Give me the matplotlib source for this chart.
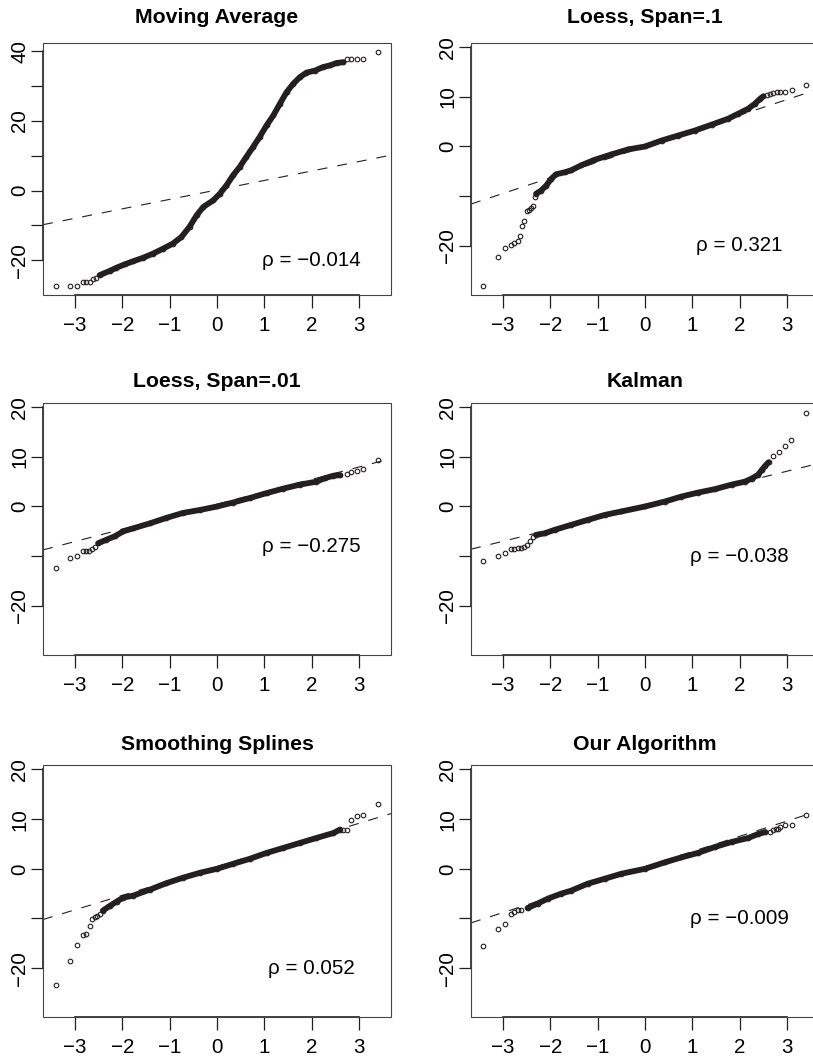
import matplotlib
matplotlib.use("Agg")
import matplotlib.pyplot as plt
from matplotlib.patches import Rectangle

plt.rcParams['font.family'] = ['Liberation Sans', 'DejaVu Sans']

INK = '#231f20'

# ---- Moving Average ----
ma_lo_x = [-3.41, -3.10, -2.95, -2.84, -2.76, -2.69, -2.62, -2.55]
ma_lo_y = [-27.3, -27.3, -27.3, -26.2, -26.2, -26.2, -25.5, -25.0]
ma_x = [-2.48, -2.27, -2.13, -1.95, -1.77, -1.56, -1.35, -1.14, -0.93, -0.75,
        -0.58, -0.43, -0.29, -0.08, 0.06, 0.20, 0.34, 0.48, 0.62, 0.76, 0.90,
        1.05, 1.19, 1.33, 1.47, 1.61, 1.75, 1.89, 2.07, 2.24, 2.39, 2.53, 2.67]
ma_y = [-24.3, -23.1, -22.2, -21.2, -20.3, -19.3, -18.1, -16.7, -15.2, -13.3,
        -10.4, -7.1, -4.7, -2.8, -0.9, 1.5, 4.4, 6.8, 9.7, 12.5, 15.4,
        18.8, 21.6, 25.0, 28.3, 30.7, 32.6, 33.9, 34.5, 35.5, 36.0, 36.7, 36.9]
ma_hi_x = [2.75, 2.84, 2.95, 3.09, 3.39]
ma_hi_y = [37.7, 37.7, 37.7, 37.7, 39.8]

# ---- Loess, Span=.1 ----
l1_lo_x = [-3.42, -3.10, -2.96, -2.84, -2.76, -2.69, -2.63, -2.60, -2.55,
           -2.49, -2.44, -2.41, -2.36, -2.32]
l1_lo_y = [-28.0, -22.3, -20.4, -19.8, -19.5, -19.1, -18.0, -16.0, -15.0,
           -13.0, -12.8, -12.3, -11.9, -10.2]
l1_x = [-2.30, -2.20, -2.09, -1.98, -1.88, -1.70, -1.56, -1.35, -1.07, -0.71,
        -0.36, 0.0, 0.35, 0.70, 1.05, 1.41, 1.76, 1.97, 2.18, 2.32, 2.43, 2.50]
l1_y = [-9.5, -8.9, -7.9, -6.5, -5.6, -5.2, -4.8, -3.8, -2.7, -1.6,
        -0.6, 0.0, 1.2, 2.2, 3.2, 4.4, 5.6, 6.6, 7.6, 8.6, 9.6, 10.1]
l1_hi_x = [2.57, 2.64, 2.71, 2.78, 2.85, 2.96, 3.10, 3.40]
l1_hi_y = [10.4, 10.6, 10.8, 10.9, 10.9, 11.0, 11.4, 12.3]

# ---- Loess, Span=.01 ----
l01_lo_x = [-3.41, -3.10, -2.95, -2.84, -2.77, -2.70, -2.63, -2.58]
l01_lo_y = [-12.3, -10.3, -10.0, -8.9, -8.9, -8.9, -8.6, -8.2]
l01_x = [-2.51, -2.34, -2.16, -1.98, -1.77, -1.42, -1.07, -0.72, -0.36, 0.0,
         0.34, 0.69, 1.05, 1.40, 1.75, 2.10, 2.28, 2.46, 2.60]
l01_y = [-7.4, -6.7, -6.0, -5.0, -4.4, -3.4, -2.3, -1.3, -0.7, 0.0,
         0.8, 1.7, 2.7, 3.6, 4.4, 5.0, 5.7, 6.2, 6.3]
l01_hi_x = [2.74, 2.84, 2.95, 3.09, 3.39]
l01_hi_y = [6.5, 6.9, 7.1, 7.5, 9.4]

# ---- Kalman ----
k_lo_x = [-3.42, -3.10, -2.96, -2.84, -2.76, -2.69, -2.62, -2.56, -2.49,
          -2.42, -2.37]
k_lo_y = [-11.0, -9.9, -9.4, -8.5, -8.5, -8.4, -8.3, -8.1, -7.7, -7.0, -6.2]
k_x = [-2.30, -2.12, -1.91, -1.56, -1.21, -0.85, -0.50, 0.0, 0.42, 0.77,
       1.12, 1.48, 1.83, 2.11, 2.25, 2.39, 2.47, 2.54, 2.61]
k_y = [-5.7, -5.4, -4.7, -3.7, -2.7, -1.7, -1.0, 0.0, 1.0, 2.0,
       2.8, 3.5, 4.4, 5.0, 5.6, 6.4, 7.4, 8.2, 8.9]
k_hi_x = [2.70, 2.83, 2.95, 3.09, 3.40]
k_hi_y = [10.1, 10.9, 12.1, 13.4, 18.9]

# ---- Smoothing Splines ----
ss_lo_x = [-3.41, -3.10, -2.95, -2.84, -2.76, -2.69, -2.63, -2.58, -2.53, -2.48]
ss_lo_y = [-23.4, -18.5, -15.3, -13.4, -13.2, -11.6, -10.2, -9.7, -9.4, -9.1]
ss_x = [-2.41, -2.27, -2.12, -1.98, -1.77, -1.42, -1.07, -0.72, -0.36, 0.0,
        0.34, 0.69, 1.05, 1.40, 1.75, 2.10, 2.46, 2.60]
ss_y = [-8.4, -7.5, -6.6, -5.8, -5.4, -4.2, -2.9, -1.8, -0.8, 0.0,
        1.0, 2.0, 3.2, 4.2, 5.2, 6.2, 7.2, 7.9]
ss_hi_x = [2.67, 2.74, 2.84, 2.95, 3.09, 3.39]
ss_hi_y = [7.9, 7.9, 9.9, 10.7, 10.9, 13.1]

# ---- Our Algorithm ----
oa_lo_x = [-3.42, -3.10, -2.96, -2.84, -2.76, -2.69, -2.62]
oa_lo_y = [-15.6, -12.1, -11.2, -9.1, -8.6, -8.3, -8.3]
oa_x = [-2.48, -2.27, -2.05, -1.77, -1.56, -1.21, -0.85, -0.50, 0.0, 0.42,
        0.77, 1.12, 1.48, 1.83, 2.18, 2.39, 2.54]
oa_y = [-7.9, -7.0, -6.0, -5.0, -4.4, -3.0, -2.0, -1.0, 0.0, 1.3,
        2.3, 3.2, 4.4, 5.4, 6.2, 7.0, 7.4]
oa_hi_x = [2.64, 2.71, 2.76, 2.80, 2.85, 2.95, 3.10, 3.41]
oa_hi_y = [7.4, 7.8, 8.1, 8.0, 8.4, 8.9, 8.9, 10.9]

titles = ["Moving Average", "Loess, Span=.1", "Loess, Span=.01", "Kalman",
          "Smoothing Splines", "Our Algorithm"]
rho = ["\u03c1 = \u22120.014", "\u03c1 = 0.321", "\u03c1 = \u22120.275",
       "\u03c1 = \u22120.038", "\u03c1 = 0.052", "\u03c1 = \u22120.009"]
rho_y = [-20, -20, -8, -10, -20, -10]
line_slope = [2.72, 3.15, 2.50, 2.35, 2.90, 3.07]
line_icpt = [0.2, 0.0, 0.45, 0.05, 0.45, 0.4]

x_ticks = [-3, -2, -1, 0, 1, 2, 3]
x_labels = ['\u22123', '\u22122', '\u22121', '0', '1', '2', '3']
y_ticks_ma = [-20, -10, 0, 10, 20, 30, 40]
y_labels_ma = ['\u221220', '', '0', '', '20', '', '40']
y_ticks = [-20, -10, 0, 10, 20]
y_labels = ['\u221220', '', '0', '10', '20']

panels = [
    (ma_lo_x, ma_lo_y, ma_x, ma_y, ma_hi_x, ma_hi_y),
    (l1_lo_x, l1_lo_y, l1_x, l1_y, l1_hi_x, l1_hi_y),
    (l01_lo_x, l01_lo_y, l01_x, l01_y, l01_hi_x, l01_hi_y),
    (k_lo_x, k_lo_y, k_x, k_y, k_hi_x, k_hi_y),
    (ss_lo_x, ss_lo_y, ss_x, ss_y, ss_hi_x, ss_hi_y),
    (oa_lo_x, oa_lo_y, oa_x, oa_y, oa_hi_x, oa_hi_y),
]

fig = plt.figure(figsize=(8.13, 10.6), dpi=100)

col_left = [43 / 813, 471 / 813]
ax_w = 348 / 813
row_bottom = [1 - 295 / 1060, 1 - 655 / 1060, 1 - 1017.3 / 1060]
ax_h = 0.238
title_pad = [14.4, 11.1, 11.1]

for i, (lox, loy, bx, by, hix, hiy) in enumerate(panels):
    r, c = divmod(i, 2)
    ax = fig.add_axes([col_left[c], row_bottom[r], ax_w, ax_h])

    mk = dict(marker='o', ms=3.3, mfc='none', mec=INK, mew=0.8, ls='none')
    ax.plot(bx, by, '-', color=INK, lw=4.2, solid_capstyle='round',
            solid_joinstyle='round', zorder=3)
    ax.plot(bx, by, **mk, zorder=3)
    ax.plot(lox, loy, **mk, zorder=3)
    ax.plot(hix, hiy, **mk, zorder=3)

    ax.axline((0, line_icpt[i]), slope=line_slope[i], color=INK, lw=0.8,
              linestyle=(0, (9, 9)), zorder=2)

    ax.set_xlim(-3.675, 3.675)
    if i == 0:
        ax.set_ylim(-30.0, 42.5)
        yt, yl = y_ticks_ma, y_labels_ma
    else:
        ax.set_ylim(-29.88, 20.88)
        yt, yl = y_ticks, y_labels
    ax.set_xticks(x_ticks)
    ax.set_xticklabels(x_labels, fontsize=14.8)
    ax.set_yticks(yt)
    ax.set_yticklabels(yl, fontsize=14.8, rotation=90, va='center')
    ax.tick_params(axis='both', direction='out', length=9, width=0.9,
                   color=INK)
    ax.tick_params(axis='x', pad=6)
    ax.tick_params(axis='y', pad=1)

    for s in ('top', 'right'):
        ax.spines[s].set_visible(False)
    ax.spines['left'].set_bounds(yt[0], yt[-1])
    ax.spines['bottom'].set_bounds(x_ticks[0], x_ticks[-1])
    for s in ('left', 'bottom'):
        ax.spines[s].set_linewidth(1.2)
        ax.spines[s].set_color(INK)
    ax.add_patch(Rectangle((0, 0), 1, 1, transform=ax.transAxes, fill=False,
                           lw=0.8, ec='#444444', clip_on=False, zorder=4))

    ax.set_title(titles[i], fontsize=15.3, fontweight='bold', pad=title_pad[r])
    ax.text(2.0, rho_y[i], rho[i], fontsize=14.8, ha='center', va='center')

fig.savefig("out.png", dpi=100)
